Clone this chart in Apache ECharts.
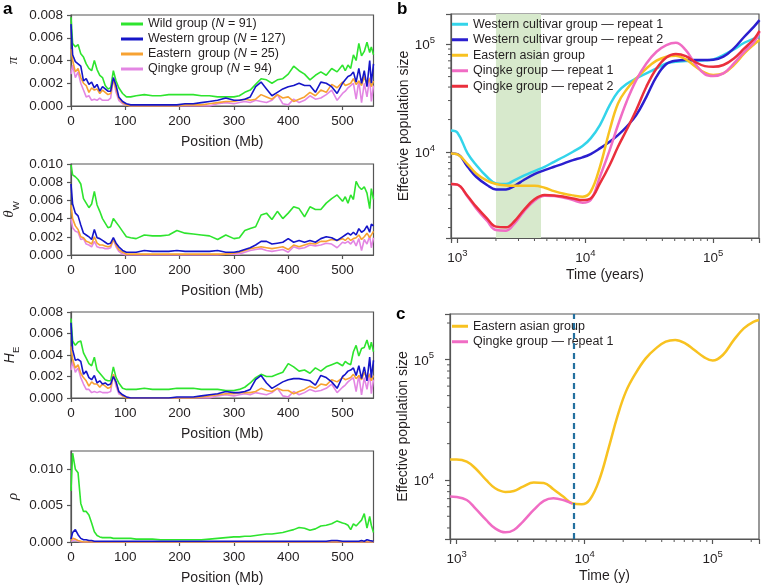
<!DOCTYPE html>
<html><head><meta charset="utf-8">
<script src="https://cdn.jsdelivr.net/npm/echarts@6/dist/echarts.min.js"></script>
<style>html,body{margin:0;padding:0;background:#fff}#c{width:762px;height:586px}</style>
</head><body><div id="c"></div>
<script>
// ---------- Panel a data (Position in Mb) ----------
const position = [0,3,8,13,18,23,28,33,38,43,48,53,58,63,68,73,78,83,88,95,102,110,120,135,150,165,180,195,210,225,240,255,270,285,300,310,320,330,340,350,360,370,380,390,400,410,420,430,440,450,460,470,480,490,500,505,510,515,520,525,530,535,540,545,550,553,557];

const piWild = [.0078,.0055,.0052,.0054,.0046,.0043,.0037,.0033,.0031,.0040,
.0032,.0027,.0025,.0018,.0015,.0016,.0031,.0022,.0016,.0011,
.0008,.0008,.0009,.0010,.0009,.0009,.0010,.0010,.0010,.0010,
.0009,.0009,.0008,.0008,.0008,.0009,.0012,.0014,.0019,.0024,
.0023,.0020,.0023,.0024,.0028,.0035,.0031,.0028,.0023,.0027,
.0030,.0027,.0033,.0030,.0036,.0031,.0036,.0033,.0045,.0040,
.0055,.0044,.0048,.0056,.0047,.0052,.0045];
const piWestern = [.0072,.0045,.0039,.0037,.0035,.0022,.0024,.0019,.0021,.0016,
.0019,.0013,.0017,.0015,.0013,.0013,.0025,.0018,.0008,.0004,
.0002,.0001,.0001,.0001,.0001,.0001,.0001,.0001,.0002,.0002,
.0003,.0004,.0005,.0007,.0005,.0005,.0006,.0008,.0017,.0021,
.0015,.0009,.0012,.0015,.0017,.0018,.0020,.0018,.0018,.0012,
.0021,.0020,.0017,.0011,.0020,.0023,.0026,.0027,.0030,.0021,
.0033,.0020,.0031,.0017,.0040,.0020,.0037];
const piEastern = [.0050,.0040,.0030,.0033,.0025,.0020,.0018,.0012,.0016,.0014,
.0015,.0011,.0014,.0012,.0010,.0011,.0024,.0015,.0007,.0003,
.0001,.0000,.0000,.0000,.0000,.0000,.0000,.0000,.0001,.0001,
.0001,.0002,.0003,.0004,.0004,.0005,.0006,.0005,.0006,.0010,
.0008,.0006,.0010,.0007,.0008,.0004,.0006,.0008,.0012,.0009,
.0014,.0012,.0019,.0016,.0021,.0018,.0019,.0020,.0024,.0019,
.0022,.0018,.0026,.0019,.0024,.0017,.0022];
const piQingke = [.0028,.0036,.0025,.0030,.0020,.0014,.0008,.0009,.0005,.0006,
.0005,.0007,.0005,.0005,.0005,.0007,.0024,.0012,.0005,.0002,
.0001,0,0,0,0,0,0,0,0,0,
0,0,.0002,.0003,.0002,.0003,.0004,.0003,.0005,.0004,
.0003,.0005,.0010,.0002,.0001,.0006,.0003,.0005,.0009,.0006,
.0007,.0010,.0014,.0005,.0011,.0013,.0016,.0018,.0020,.0006,
.0022,.0003,.0020,.0008,.0025,.0004,.0018];

const thetaWild = [.0099,.0088,.0086,.0083,.0078,.0062,.0057,.0052,.0056,.0070,
.0055,.0048,.0040,.0035,.0030,.0031,.0040,.0036,.0032,.0026,
.0020,.0019,.0018,.0022,.0021,.0021,.0022,.0027,.0024,.0023,
.0022,.0021,.0017,.0022,.0018,.0019,.0027,.0029,.0031,.0044,
.0046,.0039,.0048,.0040,.0046,.0053,.0051,.0042,.0053,.0050,
.0050,.0057,.0062,.0066,.0059,.0064,.0057,.0066,.0061,.0081,
.0075,.0072,.0075,.0068,.0051,.0073,.0061];
const thetaWestern = [.0078,.0056,.0046,.0043,.0033,.0024,.0022,.0020,.0017,.0028,
.0019,.0018,.0016,.0014,.0012,.0013,.0019,.0013,.0009,.0005,
.0003,.0003,.0003,.0005,.0004,.0004,.0004,.0005,.0004,.0004,
.0004,.0004,.0005,.0003,.0003,.0004,.0006,.0008,.0011,.0015,
.0015,.0012,.0013,.0014,.0018,.0014,.0016,.0014,.0016,.0014,
.0018,.0020,.0019,.0016,.0020,.0022,.0024,.0022,.0025,.0022,
.0029,.0025,.0027,.0032,.0025,.0034,.0032];
const thetaEastern = [.0055,.0040,.0032,.0028,.0020,.0019,.0015,.0014,.0012,.0020,
.0013,.0011,.0011,.0010,.0009,.0010,.0017,.0011,.0006,.0003,
.0001,.0001,.0001,.0001,.0001,.0001,.0001,.0001,.0001,.0001,
.0001,.0001,.0001,.0001,.0002,.0003,.0005,.0007,.0008,.0009,
.0008,.0007,.0008,.0009,.0006,.0011,.0009,.0011,.0013,.0012,
.0015,.0015,.0017,.0016,.0018,.0016,.0019,.0016,.0018,.0019,
.0022,.0017,.0020,.0024,.0019,.0021,.0026];
const thetaQingke = [.0040,.0030,.0026,.0025,.0017,.0018,.0012,.0011,.0009,.0015,
.0009,.0008,.0008,.0007,.0007,.0008,.0017,.0009,.0004,.0001,
0,0,0,0,0,0,0,0,0,0,
0,0,0,.0001,.0001,.0001,.0003,.0005,.0006,.0007,
.0005,.0004,.0005,.0006,.0003,.0009,.0007,.0008,.0011,.0010,
.0011,.0013,.0012,.0008,.0014,.0013,.0015,.0012,.0016,.0010,
.0018,.0005,.0017,.0012,.0021,.0008,.0019];

const heWild = [.0074,.0053,.0049,.0052,.0053,.0042,.0037,.0032,.0030,.0038,
.0026,.0023,.0020,.0017,.0016,.0016,.0029,.0019,.0014,.0009,
.0008,.0008,.0008,.0009,.0008,.0008,.0008,.0009,.0009,.0009,
.0008,.0008,.0008,.0007,.0007,.0008,.0010,.0014,.0019,.0022,
.0020,.0020,.0022,.0024,.0032,.0029,.0025,.0026,.0023,.0028,
.0025,.0029,.0031,.0033,.0030,.0034,.0032,.0031,.0043,.0049,
.0039,.0046,.0047,.0054,.0045,.0052,.0043];
const heWestern = [.0070,.0045,.0035,.0036,.0034,.0022,.0025,.0019,.0017,.0021,
.0014,.0016,.0013,.0014,.0012,.0013,.0020,.0015,.0006,.0003,
.0001,0,0,0,0,0,0,.0001,.0001,.0001,
.0002,.0003,.0004,.0006,.0005,.0005,.0006,.0008,.0017,.0021,
.0014,.0009,.0012,.0015,.0017,.0018,.0018,.0017,.0016,.0012,
.0021,.0019,.0015,.0009,.0020,.0022,.0025,.0026,.0028,.0021,
.0030,.0018,.0029,.0016,.0038,.0019,.0035];
const heEastern = [.0048,.0036,.0028,.0031,.0023,.0019,.0016,.0011,.0015,.0013,
.0013,.0010,.0013,.0011,.0009,.0010,.0022,.0014,.0006,.0002,
0,0,0,0,0,0,0,0,0,0,
.0001,.0002,.0003,.0004,.0004,.0005,.0005,.0005,.0006,.0009,
.0007,.0006,.0009,.0007,.0007,.0004,.0006,.0008,.0011,.0009,
.0013,.0012,.0017,.0015,.0019,.0017,.0018,.0019,.0022,.0018,
.0021,.0017,.0024,.0018,.0022,.0016,.0021];
const heQingke = [.0026,.0034,.0024,.0028,.0019,.0013,.0008,.0008,.0005,.0006,
.0005,.0006,.0005,.0005,.0005,.0006,.0022,.0011,.0004,.0002,
.0001,0,0,0,0,0,0,0,0,0,
0,0,.0002,.0003,.0002,.0003,.0004,.0003,.0005,.0004,
.0003,.0005,.0009,.0002,.0001,.0006,.0003,.0005,.0008,.0006,
.0007,.0009,.0013,.0005,.0010,.0012,.0015,.0017,.0019,.0006,
.0021,.0003,.0019,.0008,.0023,.0004,.0017];

const rhoWild = [.0070,.0122,.0100,.0095,.0053,.0042,.0042,.0037,.0026,.0014,
.0009,.0007,.0006,.0006,.0006,.0006,.0005,.0005,.0005,.0005,
.0005,.0005,.0004,.0004,.0004,.0003,.0003,.0003,.0003,.0003,
.0003,.0004,.0005,.0006,.0007,.0007,.0008,.0008,.0009,.0010,
.0011,.0011,.0012,.0013,.0015,.0017,.0020,.0019,.0016,.0018,
.0022,.0023,.0025,.0029,.0026,.0025,.0023,.0017,.0025,.0022,
.0026,.0030,.0039,.0019,.0035,.0023,.0013];
const rhoWestern = [.0004,.0013,.0017,.0010,.0005,.0003,.0003,.0002,.0002,.0001,
.0001,.0001,.0001,.0001,.0001,.0001,.0001,.0001,.0001,.0001,
.0001,.0001,.0001,.0001,.0001,.0001,.0001,.0001,.0001,.0001,
.0001,.0001,.0001,.0001,.0001,.0001,.0001,.0001,.0001,.0001,
.0001,.0001,.0001,.0001,.0001,.0001,.0001,.0001,.0001,.0001,
.0001,.0001,.0002,.0002,.0001,.0001,.0001,.0001,.0001,.0001,
.0001,.0002,.0001,.0003,.0002,.0002,.0001];
const rhoEastern = [.0002,.0005,.0004,.0002,.0001,0,0,0,0,0,
0,0,0,0,0,0,0,0,0,0, 0,0,0,0,0,0,0,0,0,0, 0,0,0,0,0,0,0,0,0,0,
0,0,0,0,0,0,0,0,0,0, 0,0,0,0,0,0,0,0,0,0, 0,0,0,0,0,0,0];
const rhoQingke = [.0001,.0003,.0003,.0001,0,0,0,0,0,0,
0,0,0,0,0,0,0,0,0,0, 0,0,0,0,0,0,0,0,0,0, 0,0,0,0,0,0,0,0,0,0,
0,0,0,0,0,0,0,0,0,0, 0,0,0,0,0,0,0,0,0,0, 0,0,0,0,0,0,0];

const groupNames = ['Wild group (N = 91)','Western group (N = 127)','Eastern  group (N = 25)','Qingke group (N = 94)'];

// ---------- Panel b / c data (Time in years, effective population size) ----------
const time = [890,1000,1200,1400,1700,2000,2400,2800,3300,4000,4800,5700,6800,8000,9500,11000,13000,15500,18000,21000,25000,30000,36000,43000,51000,61000,72000,86000,100000,120000,145000,175000,210000,230000];
const westernRep1 = [15800,15100,9720,7590,5910,5130,5060,5510,6040,6670,7310,8130,9050,10070,11360,13390,17800,27200,36200,42700,48100,53500,59500,66200,68600,69600,70200,70700,72200,79100,89300,102900,112800,118500];
const westernRep2 = [9720,9580,7310,5910,4950,4510,4510,4870,5510,6250,6810,7310,7850,8430,8930,9580,10810,12470,14370,17170,22000,32500,49900,65300,70200,71100,71100,71100,71600,76400,91200,117000,146900,166700];
const easternAsian = [9720,9510,7740,6340,5430,5060,4910,4870,4870,4870,4670,4350,4110,3970,3860,4290,7310,16000,28200,38000,48100,59500,70200,76400,78000,72200,62500,54300,51700,53500,64000,82000,100000,108900];
const qingkeRep1 = [5060,4990,3860,3010,2310,1895,1870,2190,2810,3540,3940,3920,3780,3590,3400,3590,5910,10430,17800,29300,46400,66200,84900,97900,102900,87900,66200,52700,50600,53500,66200,84900,105100,130000];
const qingkeRep2 = [5060,4990,3920,3120,2430,2040,2010,2300,2900,3650,4000,3970,3860,3720,3590,3720,5130,7590,11200,16000,24500,40300,59500,75300,80800,77400,68600,62500,61600,64000,73600,91200,112800,132800];
const shadeRange = [2000, 4500];

const cEastern = [14800,14800,14200,12500,10000,8530,7960,8110,8810,9510,9450,8380,7280,6420,6300,6900,10000,18900,33500,54000,76500,101900,123300,140000,144500,135800,119500,103900,97600,108600,142900,180700,205300,211800];
const cQingke = [7280,7230,6820,5820,4660,3970,3680,3850,4520,5640,6700,7050,6820,6370];
const splitTime = 8150;

const bNames = ['Western cultivar group \u2014 repeat 1','Western cultivar group \u2014 repeat 2','Eastern asian group','Qingke group \u2014 repeat 1','Qingke group \u2014 repeat 2'];

// ---------- styling ----------
const FONT = '"Liberation Sans", Arial, Helvetica, sans-serif';
const SERIF = '"Liberation Serif", "DejaVu Serif", serif';
const TXT = '#231f20';
const AX = '#555555';
const aColors = ['#2ee42e', '#1515c8', '#f7a232', '#e386e3'];
const bColors = ['#33d4ea', '#2b1fcf', '#f8c220', '#f06cc4', '#ea2f3c'];

const zip = (xs, ys) => ys.map((y, i) => [xs[i], y]);

const chart = echarts.init(document.getElementById('c'), null, {renderer: 'canvas'});

const leftGrids = [
  {top: 15, height: 91},
  {top: 164, height: 91},
  {top: 312, height: 86},
  {top: 451, height: 91}
];
const leftY = [
  {max: 0.008, interval: 0.002, name: '{p|\u03c0}'},
  {max: 0.010, interval: 0.002, name: '{t|\u03b8}{s|W}'},
  {max: 0.008, interval: 0.002, name: '{h|H}{s|E}'},
  {max: 0.0125, interval: 0.005, name: '{p|\u03c1}'}
];
const leftData = [
  [piWild, piWestern, piEastern, piQingke],
  [thetaWild, thetaWestern, thetaEastern, thetaQingke],
  [heWild, heWestern, heEastern, heQingke],
  [rhoWild, rhoWestern, rhoEastern, rhoQingke]
];

const grids = [], xAxes = [], yAxes = [], series = [];
const lineAx = {show: true, lineStyle: {color: AX, width: 1.2}};
const tickAx = {show: true, length: 4, lineStyle: {color: AX, width: 1.2}};
const labelBase = {color: TXT, fontFamily: FONT, fontSize: 13.5};

leftGrids.forEach((g, i) => {
  grids.push({left: 71, width: 302.5, top: g.top, height: g.height, show: true, borderColor: AX, borderWidth: 1.2, backgroundColor: 'transparent'});
  xAxes.push({gridIndex: i, type: 'value', min: 0, max: 557, interval: 100,
    axisLine: lineAx, axisTick: tickAx, splitLine: {show: false},
    axisLabel: Object.assign({margin: 8, showMaxLabel: false}, labelBase),
    name: 'Position (Mb)', nameLocation: 'middle', nameGap: 29,
    nameTextStyle: {color: TXT, fontFamily: FONT, fontSize: 14}});
  yAxes.push({gridIndex: i, type: 'value', min: 0, max: leftY[i].max, interval: leftY[i].interval,
    axisLine: lineAx, axisTick: tickAx, splitLine: {show: false},
    axisLabel: Object.assign({margin: 8, showMaxLabel: i !== 3, formatter: v => v.toFixed(3)}, labelBase),
    name: leftY[i].name, nameLocation: 'middle', nameGap: 50,
    nameTextStyle: {color: TXT, rich: {
      p: {fontFamily: SERIF, fontStyle: 'italic', fontSize: 15, color: TXT},
      t: {fontFamily: SERIF, fontStyle: 'italic', fontSize: 15, color: TXT, verticalAlign: 'bottom', padding: [0, 0, 4, 0]},
      h: {fontFamily: FONT, fontStyle: 'italic', fontSize: 14, color: TXT, verticalAlign: 'bottom', padding: [0, 0, 4, 0]},
      s: {fontFamily: FONT, fontSize: 9.5, color: TXT, verticalAlign: 'bottom'}
    }}});
  const order = [0, 3, 2, 1];
  order.forEach(k => {
    series.push({type: 'line', name: groupNames[k], xAxisIndex: i, yAxisIndex: i,
      data: zip(position, leftData[i][k]), symbol: 'none', showSymbol: false,
      lineStyle: {color: aColors[k], width: 1.6}, itemStyle: {color: aColors[k]},
      animation: false, silent: true});
  });
});

// log axis label with superscript exponent
const supFmt = v => {
  const e = Math.log10(v), r = Math.round(e);
  if (Math.abs(e - r) > 1e-6) return '';
  return '{b|10}{s|' + r + '}';
};
const supRich = {
  b: {fontFamily: FONT, fontSize: 13.5, color: TXT, verticalAlign: 'bottom'},
  s: {fontFamily: FONT, fontSize: 9.5, color: TXT, verticalAlign: 'bottom', padding: [0, 0, 7, 0]}
};

const rightPanels = [
  {gi: 4, left: 451, top: 14, height: 224, xmin: 890, xmax: 228000, ymin: 1600, ymax: 190000, xname: 'Time (years)'},
  {gi: 5, left: 450, top: 314, height: 225, xmin: 888, xmax: 230000, ymin: 3240, ymax: 237600, xname: 'Time (y)'}
];

const minorVals = (lo, hi) => {
  const out = [];
  for (let e = 2; e <= 5; e++) for (let m = 2; m <= 9; m++) {
    const v = m * Math.pow(10, e);
    if (v > lo && v < hi) out.push(v);
  }
  return out;
};

rightPanels.forEach(p => {
  grids.push({left: p.left, top: p.top, width: 761 - p.left, height: p.height, show: true, borderColor: AX, borderWidth: 1.2, backgroundColor: 'transparent'});
  xAxes.push({gridIndex: p.gi, type: 'log', logBase: 10, min: p.xmin, max: p.xmax,
    axisLine: lineAx, axisTick: {show: true, length: 5, lineStyle: {color: AX, width: 1.2}}, splitLine: {show: false},
    axisLabel: {margin: 10, formatter: supFmt, rich: supRich, color: TXT},
    name: p.xname, nameLocation: 'middle', nameGap: 30,
    nameTextStyle: {color: TXT, fontFamily: FONT, fontSize: 14}});
  yAxes.push({gridIndex: p.gi, type: 'log', logBase: 10, min: p.ymin, max: p.ymax,
    axisLine: lineAx, axisTick: {show: true, length: 5, lineStyle: {color: AX, width: 1.2}}, splitLine: {show: false},
    axisLabel: {margin: 16, formatter: supFmt, rich: supRich, color: TXT},
    name: 'Effective population size', nameLocation: 'middle', nameGap: 40,
    nameTextStyle: {color: TXT, fontFamily: FONT, fontSize: 14}});
  // minor ticks (log decades)
  series.push({type: 'custom', xAxisIndex: p.gi, yAxisIndex: p.gi, silent: true, clip: false, z: 5,
    data: minorVals(p.xmin, p.xmax).map(v => [v, p.ymin]),
    renderItem: (params, api) => {
      const c = api.coord([api.value(0), api.value(1)]);
      return {type: 'line', shape: {x1: c[0], y1: c[1], x2: c[0], y2: c[1] + 3}, style: {stroke: AX, lineWidth: 1}};
    }});
  series.push({type: 'custom', xAxisIndex: p.gi, yAxisIndex: p.gi, silent: true, clip: false, z: 5,
    data: minorVals(p.ymin, p.ymax).map(v => [p.xmin, v]),
    renderItem: (params, api) => {
      const c = api.coord([api.value(0), api.value(1)]);
      return {type: 'line', shape: {x1: c[0] - 3, y1: c[1], x2: c[0], y2: c[1]}, style: {stroke: AX, lineWidth: 1}};
    }});
});

// panel b curves
const bData = [westernRep1, westernRep2, easternAsian, qingkeRep1, qingkeRep2];
bData.forEach((d, k) => {
  const s = {type: 'line', name: bNames[k], xAxisIndex: 4, yAxisIndex: 4, data: zip(time, d),
    symbol: 'none', showSymbol: false, smooth: 0.4,
    lineStyle: {color: bColors[k], width: 2.5}, itemStyle: {color: bColors[k]}, silent: true, z: 3};
  if (k === 0) {
    s.markArea = {silent: true, itemStyle: {color: '#d7e9cc'}, data: [[{xAxis: shadeRange[0]}, {xAxis: shadeRange[1]}]]};
  }
  series.push(s);
});

// panel c curves
series.push({type: 'line', name: bNames[2], xAxisIndex: 5, yAxisIndex: 5, data: zip(time, cEastern),
  symbol: 'none', showSymbol: false, smooth: 0.4, lineStyle: {color: bColors[2], width: 2.5}, itemStyle: {color: bColors[2]}, silent: true, z: 3,
  markLine: {silent: true, symbol: 'none', label: {show: false}, lineStyle: {color: '#24709f', width: 2.2, type: [6, 4]}, data: [{xAxis: splitTime}]}});
series.push({type: 'line', name: bNames[3], xAxisIndex: 5, yAxisIndex: 5, data: zip(time, cQingke),
  symbol: 'none', showSymbol: false, smooth: 0.4, lineStyle: {color: bColors[3], width: 2.5}, itemStyle: {color: bColors[3]}, silent: true, z: 3});

const legendText = (fs, lh) => ({color: TXT, fontFamily: FONT, fontSize: fs, lineHeight: lh,
  rich: {i: {fontStyle: 'italic', fontFamily: FONT, fontSize: fs, color: TXT, lineHeight: lh}}});

const option = {
  animation: false,
  backgroundColor: '#ffffff',
  grid: grids, xAxis: xAxes, yAxis: yAxes, series: series,
  legend: [
    {left: 121, top: 16.5, padding: 0, orient: 'vertical', icon: 'rect', itemWidth: 22, itemHeight: 3, itemGap: 0,
     selectedMode: false, data: groupNames, textStyle: legendText(12.5, 15),
     formatter: n => n.replace('(N =', '({i|N} =')},
    {left: 452, top: 16.5, padding: 0, orient: 'vertical', icon: 'rect', itemWidth: 16, itemHeight: 3, itemGap: 0,
     selectedMode: false, data: bNames, textStyle: legendText(12.5, 15.5)},
    {left: 452, top: 318.5, padding: 0, orient: 'vertical', icon: 'rect', itemWidth: 16, itemHeight: 3, itemGap: 0,
     selectedMode: false, data: [bNames[2], bNames[3]], textStyle: legendText(12.5, 15.5)}
  ],
  graphic: [
    {type: 'text', left: 3, top: 1, style: {text: 'a', font: 'bold 17px ' + FONT, fill: '#000'}},
    {type: 'text', left: 397, top: 1, style: {text: 'b', font: 'bold 17px ' + FONT, fill: '#000'}},
    {type: 'text', left: 396, top: 306, style: {text: 'c', font: 'bold 17px ' + FONT, fill: '#000'}}
  ]
};
chart.setOption(option);
</script></body></html>
